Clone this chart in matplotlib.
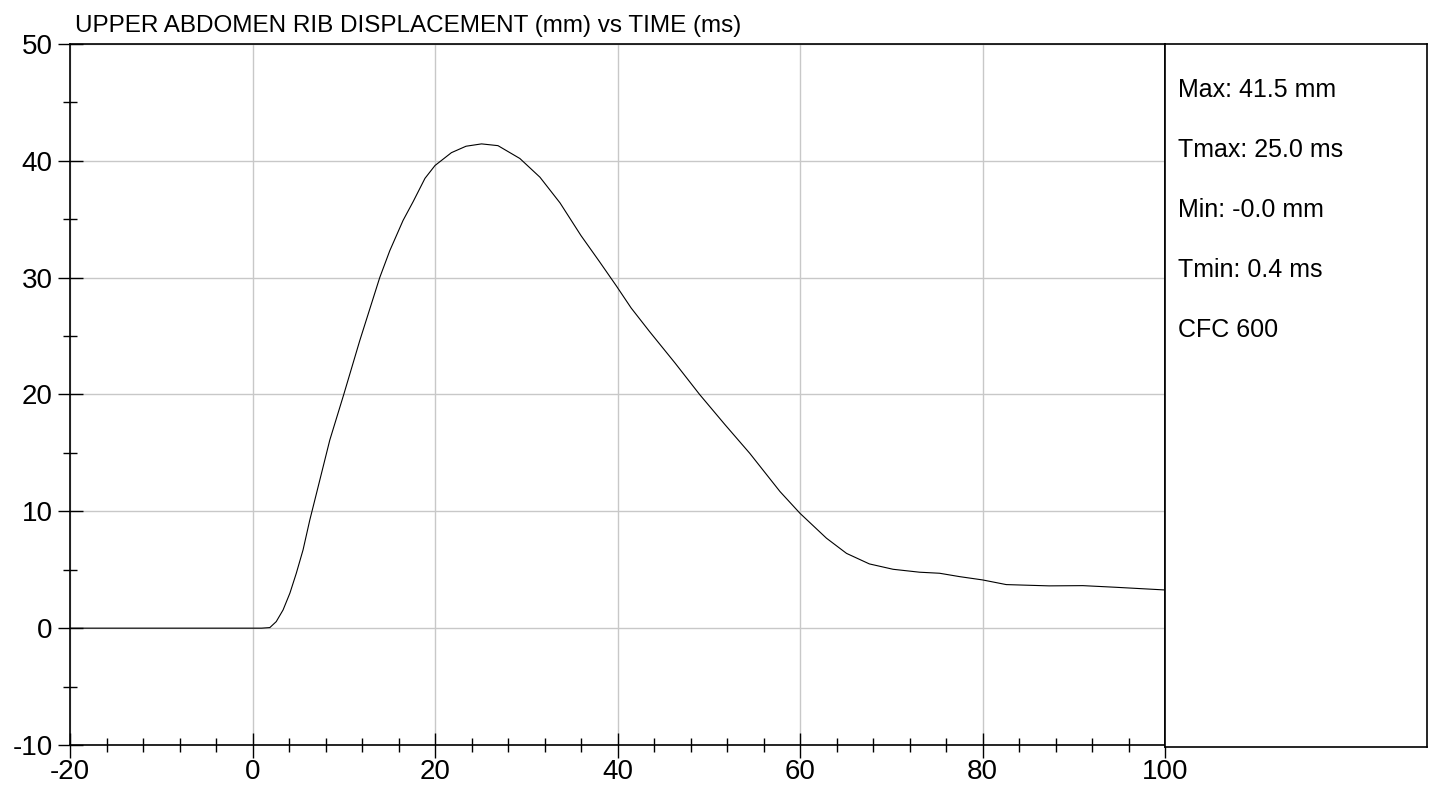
import matplotlib
matplotlib.use("Agg")
import matplotlib.pyplot as plt
from matplotlib.ticker import MultipleLocator

# displacement trace (time in ms, displacement in mm)
time_ms = [-20, -15, -10, -5, 0, 1.0, 1.9, 2.6, 3.35, 4.1, 4.8, 5.54, 6.28, 7.0, 8.47, 10.0,
           11.75, 13.94, 15.04, 16.5, 17.6, 18.9, 20.0, 21.8, 23.4, 25.1, 26.9, 29.3, 31.5,
           33.7, 36.0, 38.0, 39.87, 41.5, 43.5, 46.3, 49.0, 51.8, 54.5, 57.8, 60.0, 62.9,
           65.1, 67.6, 70.2, 73.1, 75.3, 77.5, 80.0, 82.6, 87.3, 91.0, 94.6, 100.0]
disp_mm = [0.0, 0.0, 0.0, 0.0, 0.0, 0.0, 0.05, 0.56, 1.56, 3.0, 4.7, 6.7, 9.26, 11.5, 16.1, 20.0,
           24.6, 30.0, 32.3, 34.9, 36.5, 38.5, 39.6, 40.7, 41.25, 41.45, 41.3, 40.2, 38.6,
           36.4, 33.6, 31.4, 29.3, 27.4, 25.4, 22.7, 20.0, 17.4, 14.96, 11.7, 9.83, 7.7,
           6.4, 5.5, 5.04, 4.79, 4.7, 4.41, 4.13, 3.73, 3.62, 3.64, 3.5, 3.27]

title = "UPPER ABDOMEN RIB DISPLACEMENT (mm) vs TIME (ms)"
info_lines = ["Max: 41.5 mm", "Tmax: 25.0 ms", "Min: -0.0 mm", "Tmin: 0.4 ms", "CFC 600"]

plt.rcParams['font.family'] = ['Liberation Sans', 'DejaVu Sans']
plt.rcParams['axes.unicode_minus'] = False

W, H = 1431, 792
fig = plt.figure(figsize=(W / 100, H / 100), dpi=100)

ax = fig.add_axes([70 / W, 1 - 745 / H, 1095 / W, 701 / H])
ax.plot(time_ms, disp_mm, color='black', lw=0.8)
ax.set_xlim(-20, 100)
ax.set_ylim(-10, 50)
ax.xaxis.set_major_locator(MultipleLocator(20))
ax.xaxis.set_minor_locator(MultipleLocator(4))
ax.yaxis.set_major_locator(MultipleLocator(10))
ax.yaxis.set_minor_locator(MultipleLocator(5))
ax.grid(True, which='major', color='#c8c8c8', lw=1.0)
ax.set_axisbelow(True)
for s in ax.spines.values():
    s.set_linewidth(1.2)
ax.tick_params(which='major', direction='inout', length=18, width=1.0, labelsize=20, pad=1)
ax.tick_params(axis='y', which='major', pad=3.5)
ax.tick_params(which='minor', direction='inout', length=10, width=1.0)

fig.text(75 / W, 1 - 32 / H, title, fontsize=17.5, ha='left', va='baseline')

box = fig.add_axes([1165 / W, 1 - 747 / H, 262 / W, 703 / H])
box.set_xticks([])
box.set_yticks([])
for s in box.spines.values():
    s.set_linewidth(1.2)
for i, line in enumerate(info_lines):
    fig.text(1178 / W, 1 - (90 + 60 * i) / H, line, fontsize=18, ha='left', va='center')

fig.savefig("out.png", dpi=100)
